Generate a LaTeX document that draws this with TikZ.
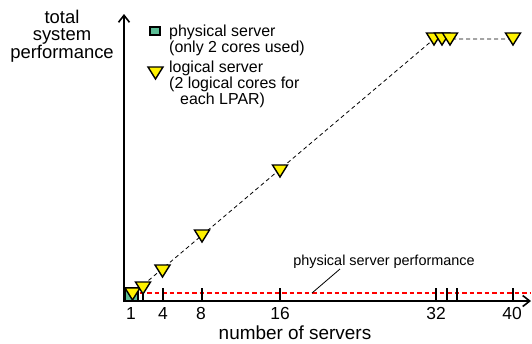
\documentclass[tikz,border=0pt]{standalone}
\usepackage{fontspec}
\setmainfont{Liberation Sans}
\usetikzlibrary{arrows.meta,calc}
\definecolor{physgreen}{RGB}{92,190,150}
\definecolor{refred}{RGB}{255,0,0}
\tikzset{
  axisline/.style={line width=1.8bp,-{Straight Barb[length=7bp,width=11bp,line width=1.6bp]}},
  tickline/.style={line width=1.6bp},
  ticklabel/.style={font=\fontsize{17.5}{17.5}\selectfont,inner sep=0pt},
  biglabel/.style={font=\fontsize{18.5}{17.5}\selectfont,inner sep=0pt,align=center},
  xlabelstyle/.style={font=\fontsize{19}{19}\selectfont,inner sep=0pt},
  legtext/.style={font=\fontsize{16}{16}\selectfont,inner sep=0pt,anchor=base west},
  trimark/.style={fill=yellow,draw=black,line width=1.4bp,line join=miter},
  sqmark/.style={fill=physgreen,draw=black,line width=1.2bp},
  dataline/.style={line width=0.8bp,dash pattern=on 4bp off 3bp},
  refline/.style={color=refred,line width=1.3bp,dash pattern=on 4.5bp off 3bp},
}
\newcommand{\tri}[1]{\draw[trimark] ($(#1)+(-7.5,-6)$) -- ++(15,0) -- ++(-7.5,12) -- cycle;}
\begin{document}
\begin{tikzpicture}[x=1bp,y=-1bp]
\useasboundingbox (0,0) rectangle (532,343);
% axes
\coordinate (origin) at (124,301);
\coordinate (ytop) at (124,14);
\coordinate (xend) at (531,301);
% reference line
\coordinate (r0) at (132,293);
\coordinate (r1) at (530,293);
\draw[refline] (r0) -- (r1);
% ticks
\foreach \x/\n in {132/1,143/2,163/4,202/8,280/16,436/32,447/33,457/34,513/40}{
  \coordinate (t\n) at (\x,288);
  \coordinate (b\n) at (\x,301);
  \draw[tickline] (t\n) -- (b\n);
}
\draw[axisline] ($(origin)+(0,1)$) -- (ytop);
\draw[axisline] ($(origin)+(-1,0)$) -- (xend);
% tick labels
\node[ticklabel] (l1) at (131,313) {1};
\node[ticklabel] (l4) at (163,313) {4};
\node[ticklabel] (l8) at (201,313) {8};
\node[ticklabel] (l16) at (280,313) {16};
\node[ticklabel] (l32) at (436,313) {32};
\node[ticklabel] (l40) at (512,313) {40};
% axis labels
\node[xlabelstyle] (xlab) at (295,333) {number of servers};
\node[biglabel] (ylab) at (62,36) {total\\system\\performance};
% data points
\coordinate (p1) at (132.5,294);
\coordinate (p2) at (143,288);
\coordinate (p4) at (162.5,271);
\coordinate (p8) at (202,236);
\coordinate (p16) at (280,171);
\coordinate (p32) at (434,39);
\coordinate (p33) at (442,39);
\coordinate (p34) at (450,39);
\coordinate (p40) at (513,39);
\draw[dataline] (p1) -- (p32) -- (p40);
\draw[sqmark] (125.5,288) rectangle (138,300.5);
\foreach \p in {p1,p2,p4,p8,p16,p32,p33,p34,p40}{\tri{\p}}
% annotation
\node[font=\fontsize{14.5}{14.5}\selectfont,inner sep=0pt] (ann) at (384,262) {physical server performance};
\coordinate (annA) at (340,269);
\coordinate (annB) at (312,293);
\draw[line width=0.8bp] (annA) -- (annB);
% legend
\draw[sqmark] (150,27) rectangle (160,35);
\coordinate (lt) at (155.5,73);
\tri{lt}
\node[legtext] (lg1) at (169,36) {physical server};
\node[legtext] (lg2) at (169,52) {(only 2 cores used)};
\node[legtext] (lg3) at (169,72) {logical server};
\node[legtext] (lg4) at (169,88) {(2 logical cores for};
\node[legtext] (lg5) at (180,104) {each LPAR)};
\end{tikzpicture}
\end{document}
